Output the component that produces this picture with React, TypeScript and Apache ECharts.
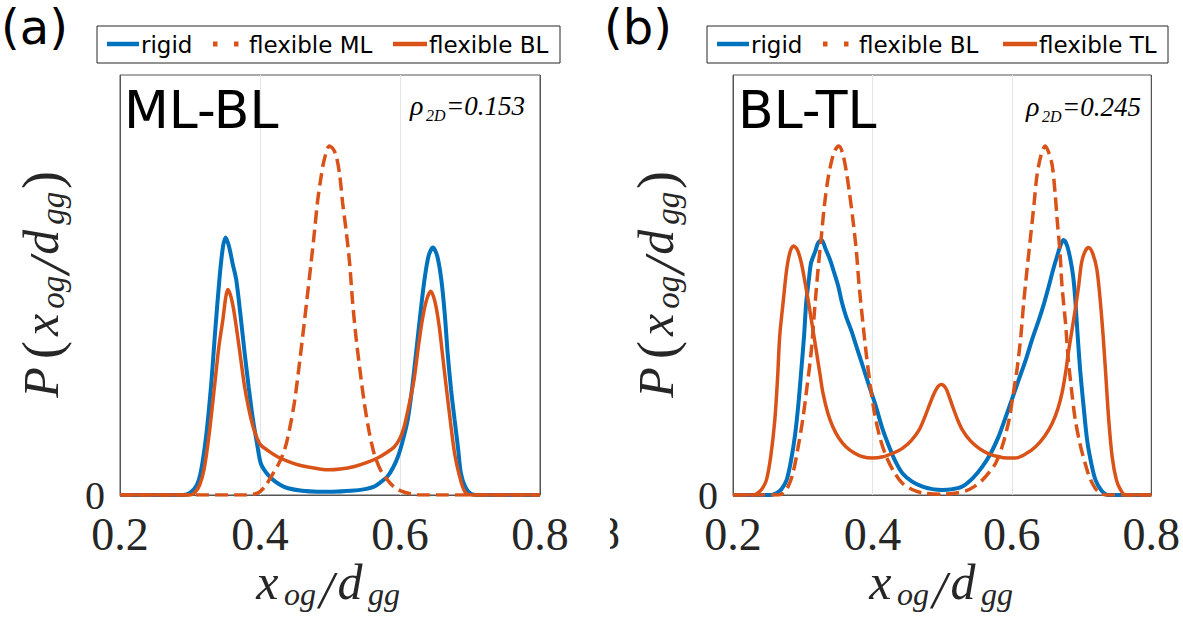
import React, { useEffect, useRef } from 'react';
import * as echarts from 'echarts';

const BLUE = '#0072BD';
const ORANGE = '#D95319';

const xTicks = [0.2, 0.4, 0.6, 0.8];
const panelTags = ['(a)', '(b)'];
const panelTitles = ['ML-BL', 'BL-TL'];
const rhoValues = ['0.153', '0.245'];
const legendNamesA = ['rigid', 'flexible ML', 'flexible BL'];
const legendNamesB = ['rigid', 'flexible BL', 'flexible TL'];

// Panel (a): ML-BL
const aRigid: number[][] = [
  [0.2, 0], [0.29, 0], [0.3, 0.05], [0.31, 0.25], [0.316, 0.6], [0.323, 1.4], [0.33, 2.58], [0.336, 3.9],
  [0.342, 5.13], [0.347, 5.9], [0.351, 6.13], [0.356, 5.9], [0.361, 5.5], [0.366, 5.13], [0.372, 4.3],
  [0.378, 3.39], [0.384, 2.55], [0.39, 1.79], [0.396, 1.2], [0.401, 0.76], [0.408, 0.55], [0.416, 0.4],
  [0.428, 0.25], [0.44, 0.16], [0.46, 0.1], [0.482, 0.08], [0.505, 0.08], [0.53, 0.1], [0.55, 0.14],
  [0.563, 0.2], [0.572, 0.3], [0.582, 0.44], [0.59, 0.65], [0.597, 0.91], [0.604, 1.3], [0.611, 1.79],
  [0.617, 2.5], [0.623, 3.39], [0.629, 4.3], [0.635, 5.13], [0.641, 5.7], [0.647, 5.89], [0.653, 5.7],
  [0.659, 5.13], [0.664, 4.3], [0.668, 3.39], [0.673, 2.5], [0.678, 1.79], [0.683, 1.1], [0.687, 0.52],
  [0.693, 0.2], [0.701, 0.03], [0.71, 0], [0.8, 0],
];
const aFlexML: number[][] = [
  [0.2, 0], [0.38, 0], [0.397, 0.05], [0.407, 0.2], [0.416, 0.44], [0.426, 0.72], [0.435, 1.07],
  [0.442, 1.55], [0.449, 2.19], [0.455, 2.95], [0.461, 3.78], [0.467, 4.65], [0.473, 5.53], [0.478, 6.3],
  [0.482, 6.96], [0.487, 7.55], [0.492, 8.0], [0.499, 8.31], [0.504, 8.25], [0.509, 8.07], [0.514, 7.6],
  [0.518, 6.96], [0.523, 6.3], [0.528, 5.53], [0.532, 4.65], [0.537, 3.78], [0.543, 2.95], [0.549, 2.19],
  [0.556, 1.5], [0.563, 0.99], [0.572, 0.6], [0.582, 0.36], [0.591, 0.2], [0.601, 0.1], [0.615, 0.03],
  [0.63, 0], [0.8, 0],
];
const aFlexBL: number[][] = [
  [0.2, 0], [0.3, 0], [0.308, 0.08], [0.314, 0.25], [0.32, 0.6], [0.327, 1.4], [0.335, 2.58], [0.341, 3.5],
  [0.347, 4.18], [0.351, 4.7], [0.354, 4.89], [0.358, 4.75], [0.362, 4.45], [0.366, 4.02], [0.372, 3.3],
  [0.378, 2.58], [0.384, 2.05], [0.39, 1.63], [0.396, 1.35], [0.401, 1.19], [0.412, 1.05], [0.425, 0.91],
  [0.44, 0.8], [0.454, 0.72], [0.475, 0.65], [0.497, 0.6], [0.515, 0.62], [0.535, 0.68], [0.552, 0.77],
  [0.568, 0.88], [0.58, 1.0], [0.592, 1.15], [0.6, 1.35], [0.606, 1.63], [0.613, 2.15], [0.62, 2.74],
  [0.626, 3.5], [0.632, 4.18], [0.638, 4.65], [0.644, 4.85], [0.65, 4.6], [0.656, 4.02], [0.661, 3.3],
  [0.666, 2.58], [0.672, 1.75], [0.678, 0.99], [0.685, 0.45], [0.692, 0.1], [0.7, 0], [0.8, 0],
];

// Panel (b): BL-TL
const bRigid: number[][] = [
  [0.2, 0], [0.255, 0], [0.263, 0.05], [0.27, 0.15], [0.277, 0.36], [0.283, 0.8], [0.289, 1.43],
  [0.294, 2.2], [0.298, 2.98], [0.302, 3.8], [0.305, 4.58], [0.309, 5.15], [0.312, 5.53], [0.318, 5.8],
  [0.322, 6.0], [0.327, 6.07], [0.333, 5.85], [0.339, 5.61], [0.345, 5.3], [0.351, 4.97], [0.356, 4.6],
  [0.362, 4.26], [0.37, 3.9], [0.377, 3.54], [0.384, 3.18], [0.391, 2.82], [0.398, 2.46], [0.405, 2.11],
  [0.414, 1.6], [0.424, 1.15], [0.433, 0.8], [0.443, 0.52], [0.457, 0.32], [0.472, 0.2], [0.486, 0.14],
  [0.5, 0.12], [0.515, 0.14], [0.529, 0.2], [0.544, 0.4], [0.558, 0.68], [0.57, 1.0], [0.581, 1.39],
  [0.59, 1.8], [0.6, 2.27], [0.61, 2.75], [0.62, 3.22], [0.629, 3.7], [0.639, 4.18], [0.646, 4.55],
  [0.653, 4.97], [0.659, 5.35], [0.665, 5.69], [0.67, 5.95], [0.674, 6.07], [0.679, 5.95], [0.684, 5.61],
  [0.688, 5.2], [0.691, 4.66], [0.694, 3.9], [0.698, 2.98], [0.703, 2.1], [0.708, 1.31], [0.714, 0.75],
  [0.72, 0.36], [0.728, 0.12], [0.738, 0], [0.8, 0],
];
const bFlexBL: number[][] = [
  [0.2, 0], [0.265, 0], [0.272, 0.05], [0.279, 0.2], [0.286, 0.52], [0.293, 1.1], [0.3, 1.79], [0.306, 2.55],
  [0.312, 3.38], [0.317, 4.4], [0.322, 5.37], [0.327, 6.2], [0.331, 6.88], [0.336, 7.5], [0.341, 7.92],
  [0.346, 8.2], [0.352, 8.31], [0.357, 8.15], [0.362, 7.76], [0.367, 7.2], [0.372, 6.56], [0.377, 5.8],
  [0.381, 4.97], [0.386, 4.15], [0.391, 3.38], [0.397, 2.6], [0.403, 1.95], [0.411, 1.35], [0.42, 0.91],
  [0.431, 0.55], [0.443, 0.28], [0.457, 0.13], [0.472, 0.05], [0.5, 0.02], [0.52, 0.05], [0.534, 0.1],
  [0.546, 0.2], [0.558, 0.36], [0.568, 0.55], [0.577, 0.76], [0.587, 1.2], [0.596, 1.79], [0.602, 2.4],
  [0.608, 3.06], [0.613, 3.8], [0.617, 4.58], [0.622, 5.4], [0.627, 6.17], [0.632, 6.95], [0.636, 7.6],
  [0.642, 8.1], [0.648, 8.31], [0.653, 8.15], [0.658, 7.84], [0.662, 7.2], [0.665, 6.56], [0.669, 5.8],
  [0.672, 4.97], [0.677, 4.1], [0.681, 3.22], [0.686, 2.45], [0.691, 1.79], [0.698, 1.2], [0.705, 0.76],
  [0.712, 0.4], [0.72, 0.15], [0.727, 0.05], [0.734, 0], [0.8, 0],
];
const bFlexTL: number[][] = [
  [0.2, 0], [0.23, 0], [0.238, 0.08], [0.243, 0.18], [0.248, 0.36], [0.254, 0.9], [0.26, 1.79], [0.264, 2.8],
  [0.267, 3.78], [0.272, 4.6], [0.277, 5.37], [0.282, 5.8], [0.287, 5.93], [0.292, 5.85], [0.298, 5.53],
  [0.304, 5.0], [0.31, 4.42], [0.315, 3.9], [0.32, 3.38], [0.325, 2.85], [0.329, 2.43], [0.336, 1.95],
  [0.343, 1.63], [0.352, 1.35], [0.362, 1.15], [0.374, 1.0], [0.386, 0.91], [0.4, 0.88], [0.415, 0.91],
  [0.43, 1.0], [0.443, 1.11], [0.456, 1.3], [0.467, 1.55], [0.475, 1.85], [0.481, 2.11], [0.488, 2.4],
  [0.494, 2.58], [0.499, 2.63], [0.505, 2.55], [0.51, 2.35], [0.515, 2.11], [0.522, 1.8], [0.529, 1.55],
  [0.54, 1.3], [0.553, 1.11], [0.567, 0.98], [0.581, 0.91], [0.593, 0.88], [0.605, 0.88], [0.62, 0.98],
  [0.634, 1.15], [0.647, 1.4], [0.658, 1.71], [0.666, 2.05], [0.672, 2.43], [0.677, 2.9], [0.681, 3.38],
  [0.686, 3.9], [0.691, 4.42], [0.696, 5.0], [0.7, 5.53], [0.705, 5.8], [0.71, 5.89], [0.716, 5.75],
  [0.722, 5.37], [0.727, 4.6], [0.731, 3.78], [0.735, 2.8], [0.739, 1.79], [0.744, 0.9], [0.75, 0.36],
  [0.756, 0.12], [0.763, 0], [0.8, 0],
];

const SERIF = 'Liberation Serif';
const SANS = 'DejaVu Sans';

// text helper: place by baseline using central alignment
const txt = (text: string, x: number, baseline: number, fs: number, opts: any = {}) => {
  const k = opts.sans ? 0.346 : 0.3375;
  return {
    type: 'text',
    x,
    y: baseline - k * fs,
    z: 10,
    style: {
      text,
      fill: opts.fill || '#000',
      fontSize: fs,
      fontFamily: opts.sans ? SANS : SERIF,
      fontStyle: opts.italic ? 'italic' : 'normal',
      align: opts.align || 'left',
      verticalAlign: 'middle',
    },
  };
};

// math label pieces: [text, centerOffset, baselineOffset, fontSize, italic]
const xLabelPieces: any[] = [
  ['x', -61, 0, 50, true],
  ['og', -28.3, 6, 32, true],
  ['/', -1.8, 9, 52, true],
  ['d', 21.7, 0, 50, true],
  ['gg', 55.7, 6, 32, true],
];
const yLabelPieces: any[] = [
  ['P', -97.5, 0, 50, true],
  ['(', -65, 3, 54, false],
  ['x', -40, 0, 50, true],
  ['og', -7.3, 7, 33, true],
  ['/', 19.2, 12, 58, true],
  ['d', 42.7, 0, 50, true],
  ['gg', 76.7, 7, 33, true],
  [')', 105, 3, 54, false],
];

const mathGroup = (pieces: any[], x: number, y: number, rotation: number) => ({
  type: 'group',
  x,
  y,
  rotation,
  z: 10,
  children: pieces.map(([t, cx, by, fs, it]) => txt(t, cx, by, fs, { italic: it, align: 'center', fill: '#262626' })),
});

const legendGraphic = (names: string[], dx: number, boxW: number) => {
  const items: any[] = [];
  items.push({
    type: 'rect', z: 10,
    shape: { x: 97 + dx, y: 26, width: boxW, height: 37 },
    style: { fill: '#fff', stroke: '#262626', lineWidth: 1 },
  });
  items.push({ type: 'line', z: 11, shape: { x1: 107 + dx, y1: 44, x2: 139 + dx, y2: 44 }, style: { stroke: BLUE, lineWidth: 4.5 } });
  items.push({ ...txt(names[0], 141 + dx, 52.7, 23, { sans: true }), z: 11 });
  items.push({ type: 'rect', z: 11, shape: { x: 213 + dx, y: 41.5, width: 4.5, height: 5 }, style: { fill: ORANGE } });
  items.push({ type: 'rect', z: 11, shape: { x: 234 + dx, y: 41.5, width: 4.5, height: 5 }, style: { fill: ORANGE } });
  items.push({ ...txt(names[1], 249 + dx, 52.7, 23, { sans: true }), z: 11 });
  items.push({ type: 'line', z: 11, shape: { x1: 393 + dx, y1: 44, x2: 427 + dx, y2: 44 }, style: { stroke: ORANGE, lineWidth: 4.5 } });
  items.push({ ...txt(names[2], 429 + dx, 52.7, 23, { sans: true }), z: 11 });
  return items;
};

const rhoGraphic = (val: string, xs: number[], base: number) => [
  txt('\u03C1', xs[0], base, 28, { italic: true }),
  txt('2D', xs[1], base + 6, 16, { italic: true }),
  txt('=' + val, xs[2], base, 27, { italic: true }),
];

export default function App() {
  const ref = useRef<HTMLDivElement>(null);
  useEffect(() => {
    if (!ref.current) return;
    const chart = echarts.init(ref.current, null, { renderer: 'svg' });
    const grids = [
      { left: 120, right: 643, top: 75, bottom: 124 },
      { left: 733, right: 30, top: 75, bottom: 124 },
    ];
    const xAxes = grids.map((_, i) => ({
      type: 'value',
      gridIndex: i,
      min: xTicks[0],
      max: xTicks[xTicks.length - 1],
      interval: 0.2,
      axisLine: { show: true, lineStyle: { color: '#555', width: 1 } },
      axisTick: { show: false },
      axisLabel: {
        formatter: (v: number) => v.toFixed(1),
        fontFamily: SERIF,
        fontSize: 46,
        lineHeight: 36,
        color: '#262626',
        margin: 21,
      },
      splitLine: { show: true, lineStyle: { color: ['#555', '#e3e3e3', '#e3e3e3', '#555'], width: 1 } },
    }));
    const yAxes = grids.map((_, i) => ({
      type: 'value',
      gridIndex: i,
      min: 0,
      max: 10,
      interval: 10,
      axisLine: { show: false },
      axisTick: { show: false },
      splitLine: { show: false },
      axisLabel: {
        formatter: (v: number) => (v === 0 ? '0' : ''),
        fontFamily: SERIF,
        fontSize: 40,
        lineHeight: 28,
        color: '#262626',
        margin: 15,
        padding: [6, 0, 0, 0],
      },
    }));
    const mk = (name: string, data: number[][], color: string, idx: number, dashed: boolean, width: number) => ({
      name,
      type: 'line',
      xAxisIndex: idx,
      yAxisIndex: idx,
      data,
      showSymbol: false,
      symbol: 'none',
      smooth: 0.3,
      z: 3,
      lineStyle: { color, width, type: dashed ? [13, 6] : 'solid', cap: 'butt' },
      clip: true,
    });
    const series = [
      mk(legendNamesA[0], aRigid, BLUE, 0, false, 4),
      mk(legendNamesA[1], aFlexML, ORANGE, 0, true, 3.5),
      mk(legendNamesA[2], aFlexBL, ORANGE, 0, false, 3.5),
      mk(legendNamesB[0], bRigid, BLUE, 1, false, 4),
      mk(legendNamesB[1], bFlexBL, ORANGE, 1, true, 3.5),
      mk(legendNamesB[2], bFlexTL, ORANGE, 1, false, 3.5),
    ];
    const graphic: any[] = [
      txt(panelTags[0], 1, 44, 48, { sans: true }),
      txt(panelTags[1], 604, 44, 48, { sans: true }),
      ...legendGraphic(legendNamesA, 0, 463),
      ...legendGraphic(legendNamesB, 610, 461),
      txt(panelTitles[0], 124, 128, 52, { sans: true }),
      txt(panelTitles[1], 738, 128, 52, { sans: true }),
      ...rhoGraphic(rhoValues[0], [410, 426, 446], 115),
      ...rhoGraphic(rhoValues[1], [1026, 1042, 1062], 116),
      mathGroup(xLabelPieces, 328.3, 599, 0),
      mathGroup(xLabelPieces, 941.3, 599, 0),
      mathGroup(yLabelPieces, 57.5, 285, Math.PI / 2),
      mathGroup(yLabelPieces, 672.5, 285, Math.PI / 2),
      // cropped fragment of a neighbouring tick label
      txt('8', 608.5, 549, 46, { align: 'center', fill: '#262626' }),
      { type: 'rect', z: 12, shape: { x: 588, y: 505, width: 22, height: 55 }, style: { fill: '#fff' } },
    ];
    chart.setOption({
      animation: false,
      backgroundColor: '#fff',
      grid: grids.map((g) => ({ ...g, show: true, borderColor: '#555', borderWidth: 1, backgroundColor: 'transparent' })),
      xAxis: xAxes,
      yAxis: yAxes,
      series,
      graphic,
    });
    return () => chart.dispose();
  }, []);
  return <div ref={ref} style={{ position: 'absolute', left: 0, top: 0, width: 1183, height: 619 }} />;
}
